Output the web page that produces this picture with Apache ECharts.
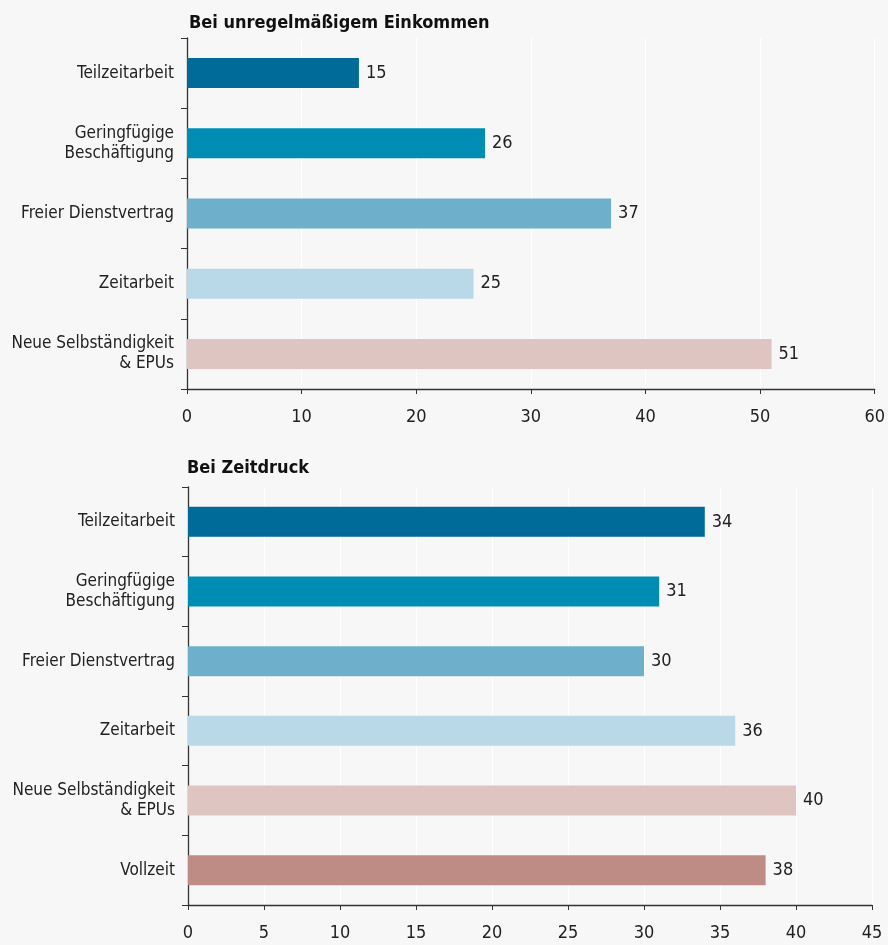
<!DOCTYPE html>
<html>
<head>
<meta charset="utf-8">
<script src="https://cdn.jsdelivr.net/npm/echarts@6/dist/echarts.min.js"></script>
<style>
html,body{margin:0;padding:0;background:#f7f7f7;}
#chart{width:888px;height:945px;}
</style>
</head>
<body>
<div id="chart"></div>
<script>
// Category labels for each panel
const categoriesTop = ['Teilzeitarbeit', 'Geringfügige\nBeschäftigung', 'Freier Dienstvertrag', 'Zeitarbeit', 'Neue Selbständigkeit\n& EPUs'];
const categoriesBottom = ['Teilzeitarbeit', 'Geringfügige\nBeschäftigung', 'Freier Dienstvertrag', 'Zeitarbeit', 'Neue Selbständigkeit\n& EPUs', 'Vollzeit'];
// Values (%)
const valuesTop = [15, 26, 37, 25, 51];
const valuesBottom = [34, 31, 30, 36, 40, 38];
// Panel titles
const titleTop = 'Bei unregelmäßigem Einkommen';
const titleBottom = 'Bei Zeitdruck';
// One colour per employment type
const barColors = ['#006a99', '#008db4', '#6eb0cc', '#b9d8e8', '#dec5c2', '#bf8c85'];

const FONT = '"Liberation Sans Narrow", "DejaVu Sans Condensed", "Noto Sans", sans-serif';

function xAxis(gridIndex, max, interval, margin) {
  return {
    type: 'value', gridIndex, min: 0, max, interval,
    axisLine: { show: true, lineStyle: { color: '#333', width: 1.3 } },
    axisTick: { show: true, length: 5, lineStyle: { color: '#333' } },
    axisLabel: { color: '#222', fontSize: 18, fontFamily: FONT, margin },
    splitLine: { show: true, lineStyle: { color: '#ffffff', width: 1.2 } }
  };
}
function yAxis(gridIndex, data) {
  return {
    type: 'category', gridIndex, data, inverse: true,
    axisLine: { show: true, lineStyle: { color: '#333', width: 1.3 } },
    axisTick: { show: true, length: 6, lineStyle: { color: '#333' } },
    axisLabel: { color: '#222', fontSize: 17, fontFamily: FONT, margin: 13, lineHeight: 20, align: 'right' }
  };
}
function bars(idx, values) {
  return {
    type: 'bar', xAxisIndex: idx, yAxisIndex: idx,
    data: values.map((v, i) => ({ value: v, itemStyle: { color: barColors[i] } })),
    barWidth: 30,
    label: { show: true, position: 'right', distance: 7, color: '#222', fontSize: 18, fontFamily: FONT },
    animation: false
  };
}

const chart = echarts.init(document.getElementById('chart'), null, { renderer: 'canvas' });
chart.setOption({
  backgroundColor: '#f7f7f7',
  animation: false,
  title: [
    { text: titleTop, left: 184, top: 9, textStyle: { fontSize: 18, fontWeight: 'bold', color: '#111', fontFamily: FONT } },
    { text: titleBottom, left: 182, top: 454, textStyle: { fontSize: 18, fontWeight: 'bold', color: '#111', fontFamily: FONT } }
  ],
  grid: [
    { left: 187, right: 11, top: 38, height: 351 },
    { left: 188, right: 16, top: 487, height: 418 }
  ],
  xAxis: [xAxis(0, 60, 10, 19), xAxis(1, 45, 5, 19)],
  yAxis: [yAxis(0, categoriesTop), yAxis(1, categoriesBottom)],
  series: [bars(0, valuesTop), bars(1, valuesBottom)]
});
</script>
</body>
</html>
